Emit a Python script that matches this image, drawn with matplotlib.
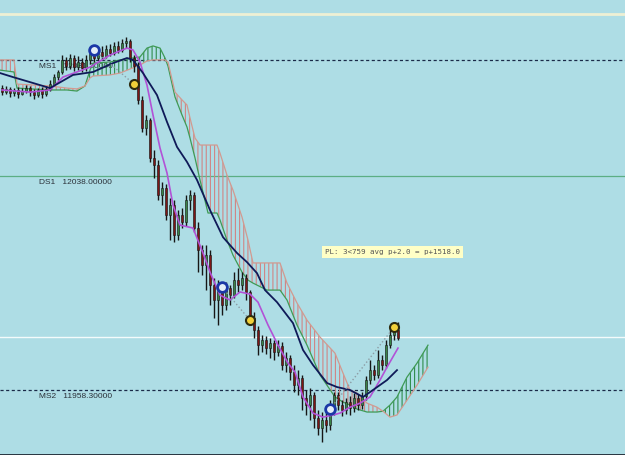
"""
Ichimoku chart recreation - candles, cloud, two moving averages, trade marks
"""
import numpy as np
import matplotlib
matplotlib.use("Agg")
import matplotlib.pyplot as plt

# ---- candle data (one bar per entry) ----
opens = [12070.7, 12069.2, 12070.4, 12068.9, 12070.0, 12068.5, 12069.6, 12070.7, 12069.2, 12068.1,
         12070.0, 12068.5, 12070.4, 12072.2, 12074.8, 12076.7, 12081.2, 12078.9, 12081.9, 12078.5,
         12080.4, 12078.2, 12081.2, 12083.4, 12081.9, 12084.1, 12082.6, 12085.3, 12083.8, 12086.4,
         12084.9, 12087.5, 12088.2, 12081.9, 12078.9, 12066.3, 12055.8, 12058.8, 12044.7, 12042.1,
         12030.9, 12033.5, 12023.4, 12027.2, 12016.0, 12023.4, 12020.8, 12029.0, 12030.9, 12018.6,
         12010.4, 12004.8, 12008.5, 11997.4, 11991.8, 11995.5, 11989.9, 11996.2, 11993.6, 11999.2,
         11997.4, 12000.0, 11994.8, 11985.1, 11980.6, 11975.0, 11976.9, 11973.9, 11975.8, 11972.4,
         11974.7, 11967.6, 11970.2, 11965.0, 11960.1, 11962.7, 11955.3, 11952.7, 11956.4, 11947.8,
         11944.1, 11947.1, 11945.2, 11950.8, 11956.4, 11952.7, 11950.8, 11953.8, 11951.6, 11955.3,
         11952.7, 11956.0, 11962.0, 11965.7, 11963.9, 11969.4, 11967.6, 11975.0, 11978.7, 11980.6]
closes = [12069.2, 12070.4, 12068.9, 12070.0, 12068.5, 12069.6, 12070.7, 12069.2, 12068.1, 12070.0,
          12068.5, 12070.4, 12072.2, 12074.8, 12076.7, 12081.2, 12078.9, 12081.9, 12078.5, 12080.4,
          12078.2, 12081.2, 12083.4, 12081.9, 12084.1, 12082.6, 12085.3, 12083.8, 12086.4, 12084.9,
          12087.5, 12088.2, 12081.9, 12078.9, 12066.3, 12055.8, 12058.8, 12044.7, 12042.1, 12030.9,
          12033.5, 12023.4, 12027.2, 12016.0, 12023.4, 12020.8, 12029.0, 12030.9, 12018.6, 12010.4,
          12004.8, 12008.5, 11997.4, 11991.8, 11995.5, 11989.9, 11996.2, 11993.6, 11999.2, 11997.4,
          12000.0, 11994.8, 11985.1, 11980.6, 11975.0, 11976.9, 11973.9, 11975.8, 11972.4, 11974.7,
          11967.6, 11970.2, 11965.0, 11960.1, 11962.7, 11955.3, 11952.7, 11956.4, 11947.8, 11944.1,
          11947.1, 11945.2, 11950.8, 11956.4, 11952.7, 11950.8, 11953.8, 11951.6, 11955.3, 11952.7,
          11956.0, 11962.0, 11965.7, 11963.9, 11969.4, 11967.6, 11975.0, 11978.7, 11980.6, 11977.6]
highs = [12071.8, 12071.5, 12071.1, 12070.7, 12071.1, 12070.7, 12071.8, 12071.5, 12070.4, 12070.7,
         12071.1, 12071.5, 12073.7, 12076.0, 12077.4, 12083.0, 12082.3, 12083.4, 12083.0, 12082.6,
         12081.9, 12083.0, 12084.9, 12085.6, 12086.0, 12086.4, 12086.7, 12087.1, 12087.9, 12088.2,
         12089.0, 12089.7, 12089.0, 12083.0, 12080.4, 12067.8, 12060.7, 12059.6, 12047.6, 12043.9,
         12035.7, 12035.0, 12029.8, 12029.0, 12025.3, 12026.0, 12030.9, 12032.7, 12032.0, 12020.8,
         12012.3, 12012.3, 12010.4, 12000.0, 11999.2, 11997.4, 11998.5, 11997.4, 12002.2, 12003.7,
         12002.2, 12001.5, 11995.5, 11987.3, 11982.1, 11978.7, 11978.4, 11977.6, 11976.9, 11976.9,
         11976.1, 11972.4, 11971.3, 11967.6, 11965.7, 11963.9, 11958.3, 11959.0, 11957.5, 11950.8,
         11950.1, 11950.8, 11954.5, 11957.5, 11957.5, 11954.5, 11955.3, 11956.0, 11957.2, 11956.8,
         11957.5, 11963.5, 11969.4, 11967.6, 11973.2, 11971.3, 11976.9, 11981.4, 11982.5, 11983.6]
lows = [12068.1, 12068.5, 12067.4, 12067.8, 12067.0, 12068.1, 12068.9, 12067.8, 12066.6, 12067.4,
        12067.0, 12067.8, 12069.6, 12071.5, 12073.7, 12076.0, 12077.4, 12077.8, 12077.1, 12077.4,
        12076.7, 12077.1, 12079.7, 12080.4, 12081.2, 12081.5, 12081.9, 12082.6, 12083.0, 12083.8,
        12084.1, 12085.6, 12080.4, 12076.7, 12064.8, 12054.3, 12053.2, 12043.2, 12037.2, 12029.0,
        12027.2, 12021.6, 12014.1, 12013.4, 12014.1, 12018.6, 12019.3, 12025.3, 12017.1, 12002.2,
        12001.1, 11995.5, 11989.9, 11985.1, 11982.5, 11986.2, 11988.1, 11989.9, 11992.5, 11994.8,
        11995.5, 11991.8, 11983.6, 11977.6, 11971.3, 11972.4, 11971.7, 11970.2, 11969.4, 11970.9,
        11965.7, 11965.0, 11962.0, 11957.5, 11956.4, 11950.8, 11949.0, 11947.1, 11944.1, 11941.5,
        11938.9, 11942.6, 11943.4, 11949.0, 11950.8, 11948.6, 11949.3, 11949.0, 11950.1, 11950.8,
        11951.2, 11954.5, 11960.5, 11962.0, 11962.7, 11965.7, 11966.5, 11973.9, 11976.9, 11976.9]

# ---- moving averages ----
fast_x = [0, 7, 12, 15.25, 22, 27, 31.25, 32.75, 34.5, 36.25, 37.75, 39.5, 41.25, 42.75, 44.5,
          47.75, 50.25, 52, 54.5, 57, 59.5, 62, 64, 66.5, 69, 71.5, 73.25, 75.25, 77.75, 80.25,
          82.75, 84.5, 87, 89.5, 92, 94.5, 96.25, 99]
fast_ma = [12070.0, 12069.2, 12070.0, 12074.8, 12078.5, 12083.0, 12085.6, 12084.9, 12080.4, 12071.8,
           12060.7, 12048.4, 12039.1, 12027.2, 12019.7, 12018.6, 12009.3, 12002.2, 11993.6, 11991.8,
           11994.8, 11994.0, 11991.0, 11982.5, 11975.0, 11968.3, 11965.0, 11955.7, 11949.7, 11948.2,
           11949.0, 11949.7, 11951.9, 11953.4, 11955.7, 11962.0, 11966.8, 11973.9]
slow_x = [-0.5, 2.75, 7.75, 12, 17.75, 22.75, 27.75, 31.25, 32.75, 35.25, 38.75, 41.25, 43.75,
          46.25, 48.75, 52, 55.25, 58.75, 61.25, 63.75, 65.75, 68.75, 72.75, 75.25, 77.75, 81.25,
          83.75, 87, 90.25, 92.75, 96.25, 98.75]
slow_ma = [12076.3, 12074.8, 12072.6, 12070.7, 12075.6, 12076.7, 12080.0, 12081.9, 12081.2, 12076.3,
           12068.1, 12058.1, 12048.8, 12043.2, 12036.5, 12025.3, 12015.2, 12009.3, 12005.9, 12001.8,
           11995.5, 11991.0, 11983.2, 11973.2, 11967.6, 11960.9, 11959.4, 11958.3, 11955.7, 11958.3,
           11962.0, 11965.7]

# ---- ichimoku cloud edges ----
cloud_x = [-0.5, 3, 3.75, 12, 16.25, 18.75, 20.75, 22, 22.75, 27, 29.5, 34.5, 36.25, 37.75, 39.5,
           40.75, 41.5, 43.25, 45, 46.25, 47, 48.25, 49.5, 51.5, 53.75, 54.5, 56.25, 57.75, 60,
           61.5, 62.75, 66.25, 69.5, 71.25, 73.75, 76.25, 79.5, 83.25, 85.25, 87, 88.75, 91.25,
           93.75, 95.25, 97, 98.75, 101.25, 103.75, 106.5]
span_a = [12077.4, 12076.7, 12070.7, 12070.0, 12070.0, 12069.6, 12071.5, 12077.4, 12080.0, 12080.4,
          12081.2, 12082.3, 12085.6, 12086.4, 12085.6, 12081.9, 12078.9, 12067.4, 12060.7, 12056.2,
          12052.1, 12044.7, 12036.5, 12024.2, 12024.2, 12021.6, 12014.1, 12008.5, 12002.2, 11999.2,
          11998.1, 11995.5, 11995.5, 11991.8, 11982.5, 11975.0, 11963.9, 11955.7, 11953.8, 11952.7,
          11951.2, 11950.1, 11950.1, 11950.4, 11952.7, 11955.7, 11963.1, 11968.3, 11975.0]
span_b = [12081.2, 12081.2, 12072.2, 12071.5, 12070.7, 12070.4, 12071.5, 12074.5, 12075.2, 12075.6,
          12076.3, 12079.3, 12080.8, 12081.2, 12081.2, 12081.2, 12080.4, 12069.2, 12066.3, 12064.4,
          12059.6, 12052.1, 12049.5, 12049.5, 12049.5, 12046.5, 12038.3, 12032.7, 12022.7, 12014.1,
          12005.6, 12005.6, 12005.6, 11998.1, 11990.7, 11984.3, 11978.0, 11972.0, 11964.6, 11958.3,
          11957.2, 11953.4, 11951.9, 11950.4, 11948.2, 11949.0, 11954.5, 11960.1, 11966.8]

# ---- trades: entry / exit bar and price ----
entry_bar = [23, 55, 82]
entry_price = [12084.9, 11996.6, 11951.2]
exit_bar = [33, 62, 98]
exit_price = [12072.2, 11984.3, 11981.7]

# ---- horizontal levels ----
level_names = ['MS1', 'DS1', 'MS2']
level_values = [12081.2, 12038.0, 11958.3]
top_line = 12098.3
white_line = 11978.0

pl_text = 'PL: 3<759 avg p+2.0 = p+1518.0'

BG = '#aedde5'

fig = plt.figure(figsize=(6.25, 4.55), dpi=100)
fig.patch.set_facecolor(BG)
ax = fig.add_axes([0, 0, 1, 1])
ax.set_facecolor(BG)
plt.rcParams['hatch.linewidth'] = 0.8

# price window: pixel 0 -> 12103.5, 0.3724 per pixel, 4 px per bar
ax.set_xlim(-0.5, 155.75)
ax.set_ylim(11934.1, 12103.5)
ax.set_xticks([])
ax.set_yticks([])
for side in ['top', 'left', 'right']:
    ax.spines[side].set_visible(False)
ax.spines['bottom'].set_color('#1c2430')
ax.spines['bottom'].set_linewidth(2)

# levels
ax.axhline(top_line, color='#eef0d4', lw=2, zorder=1)
ax.axhline(white_line, color='#f4fbfb', lw=1, zorder=1)
for name, val in zip(level_names, level_values):
    if name == 'DS1':
        ax.axhline(val, color='#5cae84', lw=0.9, zorder=1)
    else:
        ax.axhline(val, color='#1a2a48', lw=0.9, ls=(0, (2.5, 2)), zorder=1)
    ax.text(39 / 625, val - 1.0, f'{name}   {val:.5f}', transform=ax.get_yaxis_transform(),
            ha='left', va='top', fontsize=6, color='#2a3038', family='Liberation Sans', zorder=1)

# cloud
cx = np.array(cloud_x)
sa = np.array(span_a)
sb = np.array(span_b)
ax.fill_between(cx, sa, sb, where=sa >= sb, interpolate=True, facecolor='none',
                edgecolor='#2f8c4c', hatch='||||', linewidth=0, zorder=2)
ax.fill_between(cx, sa, sb, where=sb >= sa, interpolate=True, facecolor='none',
                edgecolor='#cf8585', hatch='||||', linewidth=0, zorder=2)
ax.plot(cx, sa, color='#3f9a55', lw=0.9, zorder=2)
ax.plot(cx, sb, color='#d29a90', lw=0.9, zorder=2)

# candles
bars = np.arange(len(closes))
o = np.array(opens)
c = np.array(closes)
up = c >= o
ax.vlines(bars, lows, highs, color='#161616', lw=1.0, zorder=3)
ax.bar(bars[up], (c - o)[up], bottom=o[up], width=0.72, color='#3a8548',
       edgecolor='#161616', linewidth=0.4, zorder=4)
ax.bar(bars[~up], (o - c)[~up], bottom=c[~up], width=0.72, color='#7e1616',
       edgecolor='#161616', linewidth=0.4, zorder=4)

# moving averages
ax.plot(fast_x, fast_ma, color='#b252d6', lw=1.2, zorder=5)
ax.plot(slow_x, slow_ma, color='#0f1a58', lw=1.3, zorder=5)

# trades
for eb, ep, xb, xp in zip(entry_bar, entry_price, exit_bar, exit_price):
    ax.plot([eb, xb], [ep, xp], color='#8c9ca4', lw=1, ls=':', zorder=6)
ax.plot(entry_bar, entry_price, 'o', ms=7, mfc='#e4eef8', mec='#1b38a6', mew=2, zorder=7)
ax.plot(exit_bar, exit_price, 'o', ms=6.5, mfc='#f2d13a', mec='#2e2c10', mew=1.5, zorder=7)

# P/L label
ax.text(325 / 625, 1 - 252 / 455, pl_text, transform=ax.transAxes, ha='left', va='center',
        fontsize=5.4, family='DejaVu Sans Mono', color='#555555', zorder=8,
        bbox=dict(boxstyle='square,pad=0.35', fc='#ffffc6', ec='none'))

fig.savefig('out.png', dpi=100, facecolor=BG)
